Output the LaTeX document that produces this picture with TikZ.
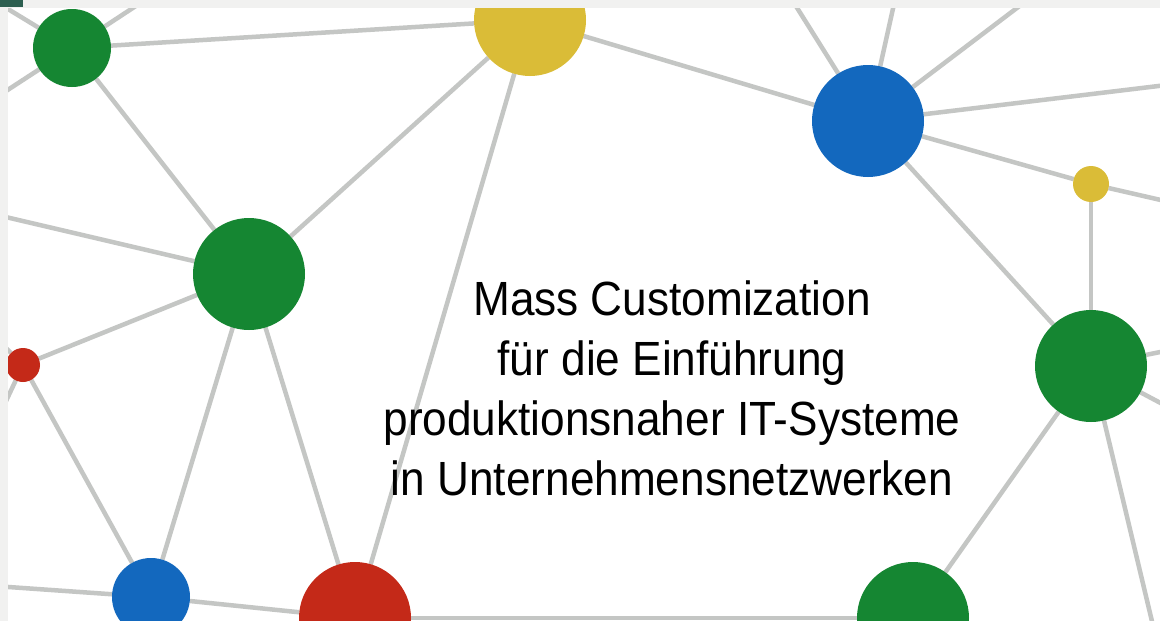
\documentclass[tikz,border=0pt]{standalone}
\usepackage{fontspec}
\setmainfont[FakeStretch=0.92]{Liberation Sans}
\definecolor{ngreen}{RGB}{21,134,50}
\definecolor{nyellow}{RGB}{218,188,55}
\definecolor{nblue}{RGB}{19,104,190}
\definecolor{nred}{RGB}{196,41,24}
\definecolor{edgegrey}{RGB}{196,198,196}
\definecolor{framegrey}{RGB}{241,241,240}
\definecolor{cornergreen}{RGB}{45,95,80}
\pgfdeclarelayer{background}
\pgfsetlayers{background,main}
\tikzset{
  dot/.style={circle, inner sep=0pt, outer sep=0pt, minimum size=#1},
  edge/.style={draw=edgegrey, line width=4.5pt},
}
\begin{document}
\begin{tikzpicture}[x=1pt,y=-1pt]
\useasboundingbox (0,0) rectangle (1160,621);
\begin{scope}
\clip (0,0) rectangle (1160,621);
% nodes
\node[dot=78pt, fill=ngreen]  (G1) at (72,48) {};
\node[dot=112pt, fill=nyellow] (Y1) at (530,20) {};
\node[dot=112pt, fill=nblue]  (B1) at (868,121) {};
\node[dot=36pt, fill=nyellow] (Y2) at (1091,184) {};
\node[dot=112pt, fill=ngreen] (G2) at (249,274) {};
\node[dot=34pt, fill=nred]    (R1) at (23,365) {};
\node[dot=78pt, fill=nblue]   (B2) at (151,597) {};
\node[dot=112pt, fill=nred]   (R2) at (355,618) {};
\node[dot=112pt, fill=ngreen] (G3) at (1091,366) {};
\node[dot=112pt, fill=ngreen] (G4) at (913,618) {};
% free ends outside the frame
\coordinate (o1) at (-20,-8);
\coordinate (o2) at (151,-4);
\coordinate (o3) at (-20,108);
\coordinate (o4) at (-20,211);
\coordinate (o5) at (789,-5);
\coordinate (o6) at (896,-5);
\coordinate (o7) at (1034,-5);
\coordinate (o8) at (1200,81);
\coordinate (o9) at (1200,209);
\coordinate (o10) at (1200,344);
\coordinate (o11) at (1200,424);
\coordinate (o12) at (1166,680);
\coordinate (o13) at (-20,585);
\coordinate (o14) at (-20,322);
\coordinate (o15) at (-10,435);
\begin{pgfonlayer}{background}
\begin{scope}
\clip (0,0) rectangle (1160,621);
\fill[white] (0,0) rectangle (1160,621);
\path[edge] (G1) -- (o1);
\path[edge] (G1) -- (o2);
\path[edge] (G1) -- (o3);
\path[edge] (G1) -- (Y1);
\path[edge] (G1) -- (G2);
\path[edge] (Y1) -- (B1);
\path[edge] (Y1) -- (G2);
\path[edge] (Y1) -- (R2);
\path[edge] (B1) -- (o5);
\path[edge] (B1) -- (o6);
\path[edge] (B1) -- (o7);
\path[edge] (B1) -- (o8);
\path[edge] (B1) -- (Y2);
\path[edge] (B1) -- (G3);
\path[edge] (Y2) -- (o9);
\path[edge] (Y2) -- (G3);
\path[edge] (G3) -- (o10);
\path[edge] (G3) -- (o11);
\path[edge] (G3) -- (o12);
\path[edge] (G3) -- (G4);
\path[edge] (G2) -- (o4);
\path[edge] (G2) -- (R1);
\path[edge] (G2) -- (B2);
\path[edge] (G2) -- (R2);
\path[edge] (R1) -- (B2);
\path[edge] (R1) -- (o14);
\path[edge] (R1) -- (o15);
\path[edge] (B2) -- (o13);
\path[edge] (B2) -- (R2);
\path[edge] (R2) -- (G4);
\end{scope}
\end{pgfonlayer}
% frame
\fill[framegrey] (0,0) rectangle (1160,8);
\fill[framegrey] (0,0) rectangle (8,621);
\fill[cornergreen] (0,0) rectangle (23,7);
\end{scope}
% title
\node[align=center, font=\fontsize{48}{60}\selectfont, inner sep=0pt, anchor=base] (title) at (672,495)
  {Mass Customization\\für die Einführung\\produktionsnaher IT-Systeme\\in Unternehmensnetzwerken};
\end{tikzpicture}
\end{document}
